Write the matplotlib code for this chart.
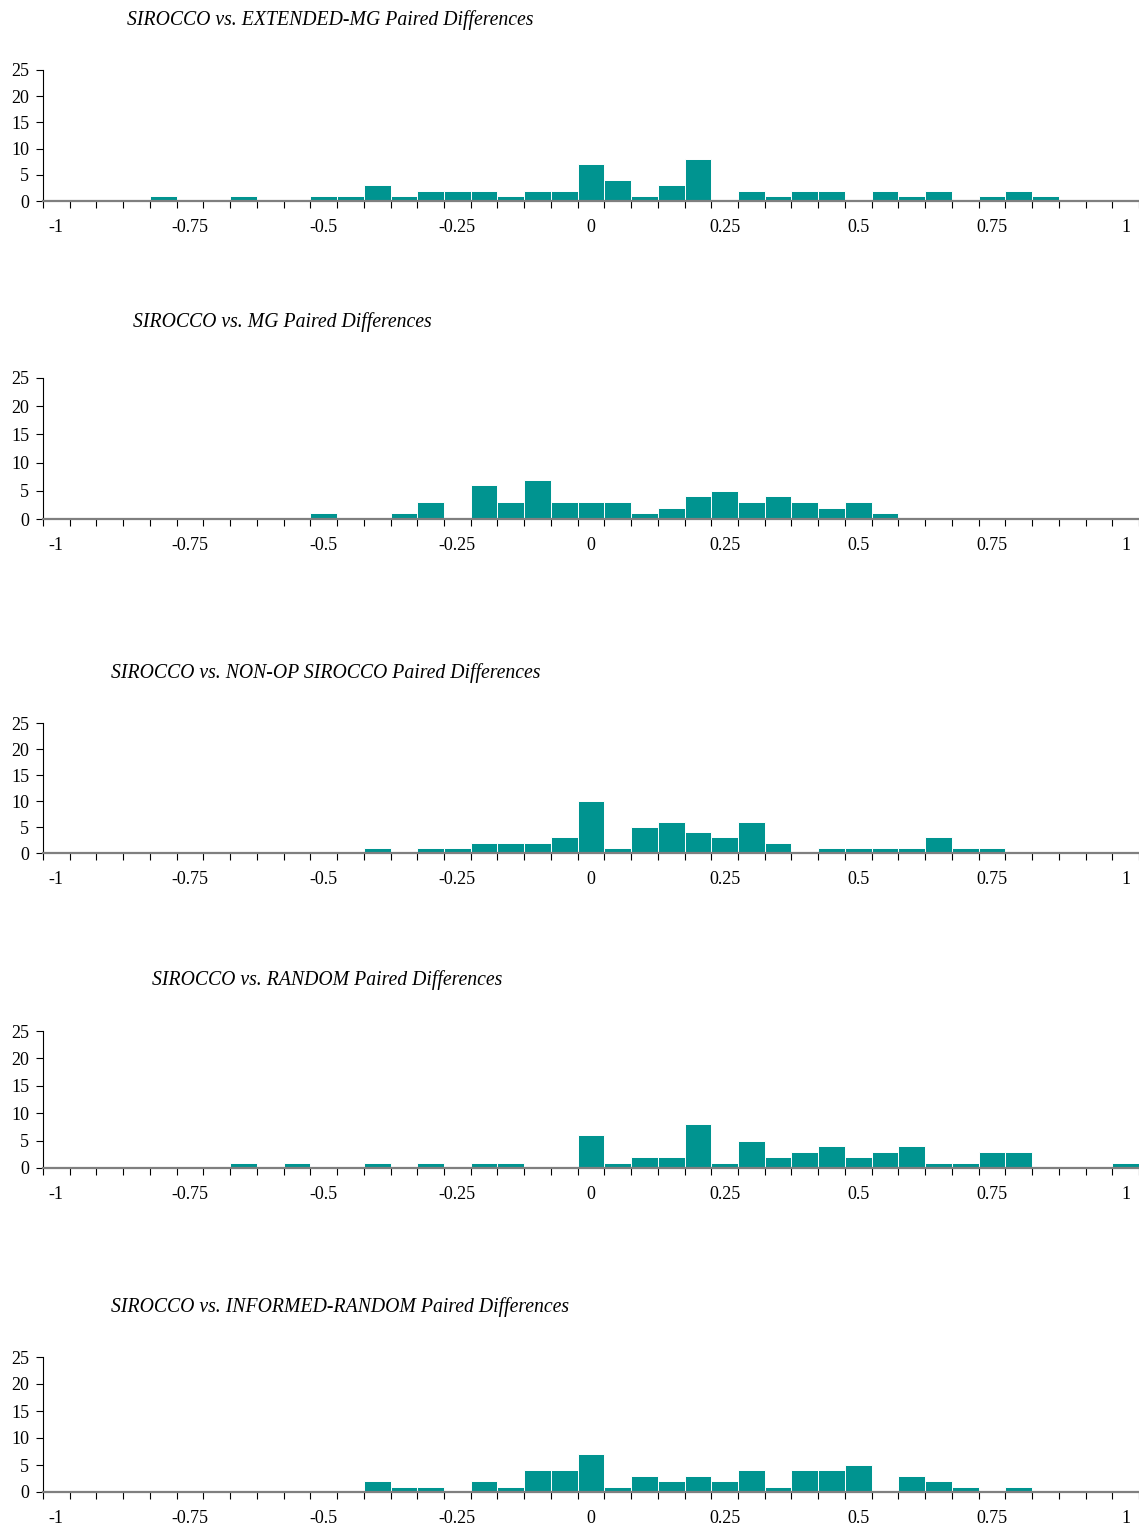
import numpy as np
import matplotlib
matplotlib.use("Agg")
import matplotlib.pyplot as plt

plt.rcParams['font.family'] = ['Liberation Serif', 'DejaVu Serif']

# 41 categories: -1, -0.95, ..., 0.95, 1
n_bins = 41
tick_pos = [0, 5, 10, 15, 20, 25, 30, 35, 40]
tick_labels = ['-1', '-0.75', '-0.5', '-0.25', '0', '0.25', '0.5', '0.75', '1']

titles = [
    'SIROCCO vs. EXTENDED-MG Paired Differences',
    'SIROCCO vs. MG Paired Differences',
    'SIROCCO vs. NON-OP SIROCCO Paired Differences',
    'SIROCCO vs. RANDOM Paired Differences',
    'SIROCCO vs. INFORMED-RANDOM Paired Differences',
]

extended_mg = [0, 0, 0, 0, 1, 0, 0, 1, 0, 0,
               1, 1, 3, 1, 2, 2, 2, 1, 2, 2,
               7, 4, 1, 3, 8, 0, 2, 1, 2, 2,
               0, 2, 1, 2, 0, 1, 2, 1, 0, 0, 0]
mg = [0, 0, 0, 0, 0, 0, 0, 0, 0, 0,
      1, 0, 0, 1, 3, 0, 6, 3, 7, 3,
      3, 3, 1, 2, 4, 5, 3, 4, 3, 2,
      3, 1, 0, 0, 0, 0, 0, 0, 0, 0, 0]
non_op = [0, 0, 0, 0, 0, 0, 0, 0, 0, 0,
          0, 0, 1, 0, 1, 1, 2, 2, 2, 3,
          10, 1, 5, 6, 4, 3, 6, 2, 0, 1,
          1, 1, 1, 3, 1, 1, 0, 0, 0, 0, 0]
random_ = [0, 0, 0, 0, 0, 0, 0, 1, 0, 1,
           0, 0, 1, 0, 1, 0, 1, 1, 0, 0,
           6, 1, 2, 2, 8, 1, 5, 2, 3, 4,
           2, 3, 4, 1, 1, 3, 3, 0, 0, 0, 1]
informed = [0, 0, 0, 0, 0, 0, 0, 0, 0, 0,
            0, 0, 2, 1, 1, 0, 2, 1, 4, 4,
            7, 1, 3, 2, 3, 2, 4, 1, 4, 4,
            5, 0, 3, 2, 1, 0, 1, 0, 0, 0, 0]
series = [extended_mg, mg, non_op, random_, informed]

W, H = 1139, 1529
# pixel layout: (y of 25, y of 0, title x, title y)
panels = [(70, 201, 127, 20),
          (378, 519, 133, 322),
          (723, 853, 111, 673),
          (1031, 1168, 152, 980),
          (1357, 1492, 111, 1307)]
left_px, right_px = 43, 1139

teal = '#009490'
fig = plt.figure(figsize=(W / 100, H / 100), dpi=100)

for vals, title, (ytop, ybot, tx, ty) in zip(series, titles, panels):
    ax = fig.add_axes([left_px / W, 1 - ybot / H, (right_px - left_px) / W, (ybot - ytop) / H])
    ax.bar(np.arange(n_bins), vals, width=1.0, color=teal, edgecolor='white', linewidth=0.7, zorder=2)
    ax.set_xlim(-0.5, n_bins - 0.5)
    ax.set_ylim(0, 25)
    ax.set_yticks([0, 5, 10, 15, 20, 25])
    ax.set_xticks(np.arange(n_bins + 1) - 0.5)
    ax.set_xticklabels([])
    ax.set_xticks(tick_pos, minor=True)
    ax.set_xticklabels(tick_labels, minor=True)
    ax.tick_params(axis='x', which='major', direction='out', length=5, width=0.8, color='black')
    ax.tick_params(axis='x', which='minor', length=0, pad=13, labelsize=13)
    ax.tick_params(axis='y', direction='out', length=5, width=0.8, pad=5, labelsize=13)
    for s in ['top', 'right']:
        ax.spines[s].set_visible(False)
    ax.spines['left'].set_color('black')
    ax.spines['left'].set_linewidth(0.8)
    ax.spines['bottom'].set_color('#7f7f7f')
    ax.spines['bottom'].set_linewidth(1.6)
    ax.spines['bottom'].set_zorder(3)
    fig.text(tx / W, 1 - ty / H, title, ha='left', va='center',
             fontstyle='italic', fontsize=14.2)

fig.savefig('out.png', dpi=100)
